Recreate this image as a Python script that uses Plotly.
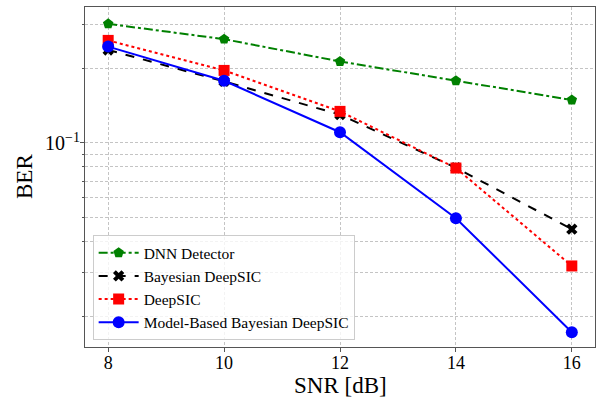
import plotly.graph_objects as go

snr = [8, 10, 12, 14, 16]
ber_dnn = [0.302, 0.262, 0.213, 0.178, 0.149]
ber_bayes = [0.237, 0.177, 0.130, 0.0794, 0.0449]
ber_deepsic = [0.259, 0.196, 0.134, 0.0792, 0.0319]
ber_mb = [0.2445, 0.178, 0.1104, 0.0497, 0.01725]

x_ticks = [8, 10, 12, 14, 16]
y_tickvals = [0.1]
y_ticktext = ["10<sup>\u22121</sup>"]

font_fam = "Liberation Serif, Times New Roman, serif"
grid_dash = "3px,2px"
grid_col = "#c4c4c4"

fig = go.Figure()
fig.add_trace(go.Scatter(x=snr, y=ber_dnn, name="DNN Detector", mode="lines+markers",
                         line=dict(color="green", width=2, dash="dashdot"),
                         marker=dict(symbol="pentagon", size=11, color="green")))
fig.add_trace(go.Scatter(x=snr, y=ber_bayes, name="Bayesian DeepSIC", mode="lines+markers",
                         line=dict(color="black", width=2, dash="dash"),
                         marker=dict(symbol="x", size=10, color="black")))
fig.add_trace(go.Scatter(x=snr, y=ber_deepsic, name="DeepSIC", mode="lines+markers",
                         line=dict(color="red", width=2, dash="dot"),
                         marker=dict(symbol="square", size=11, color="red")))
fig.add_trace(go.Scatter(x=snr, y=ber_mb, name="Model-Based Bayesian DeepSIC", mode="lines+markers",
                         line=dict(color="blue", width=2),
                         marker=dict(symbol="circle", size=12, color="blue")))

fig.update_layout(
    width=599, height=399,
    margin=dict(l=85, r=4, t=7, b=52, autoexpand=False),
    paper_bgcolor="white", plot_bgcolor="white",
    font=dict(family=font_fam, size=18, color="black"),
    showlegend=True,
    legend=dict(x=0.015, y=0.02, xanchor="left", yanchor="bottom",
                bgcolor="rgba(255,255,255,0.8)", bordercolor="#cccccc", borderwidth=1,
                font=dict(family=font_fam, size=15.5), tracegroupgap=0,
                itemwidth=40),
    xaxis=dict(range=[7.6, 16.4], tickvals=x_ticks, showgrid=True, automargin=False,
               gridcolor=grid_col, griddash=grid_dash, gridwidth=1,
               showline=True, mirror=True, linecolor="#555555", linewidth=1.2,
               ticks="outside", ticklen=4, tickcolor="#555555", zeroline=False,
               ticklabelstandoff=-5,
               tickfont=dict(size=18)),
    yaxis=dict(type="log", range=[-1.823, -0.452], tickvals=y_tickvals, ticktext=y_ticktext,
               automargin=False,
               showgrid=True, gridcolor=grid_col, griddash=grid_dash, gridwidth=1,
               showline=True, mirror=True, linecolor="#555555", linewidth=1.2,
               ticks="outside", ticklen=4, tickcolor="#555555", zeroline=False,
               ticklabelstandoff=-4,
               minor=dict(showgrid=True, gridcolor=grid_col, griddash=grid_dash,
                          ticks="outside", ticklen=2, tickcolor="#555555",
                          tickvals=[0.02, 0.03, 0.04, 0.05, 0.06, 0.07, 0.08, 0.09, 0.2, 0.3]),
               tickfont=dict(size=20)),
    annotations=[
        dict(text="SNR [dB]", xref="paper", yref="paper", x=0.5, y=0, yshift=-38,
             xanchor="center", yanchor="middle", showarrow=False,
             font=dict(family=font_fam, size=23)),
        dict(text="BER", xref="paper", yref="paper", x=0, xshift=-61, y=0.5,
             xanchor="center", yanchor="middle", showarrow=False, textangle=-90,
             font=dict(family=font_fam, size=23)),
    ],
)

fig.write_html("out.html", config={"displayModeBar": False},
               post_script="document.body.style.margin='0';document.body.style.overflow='hidden';")
